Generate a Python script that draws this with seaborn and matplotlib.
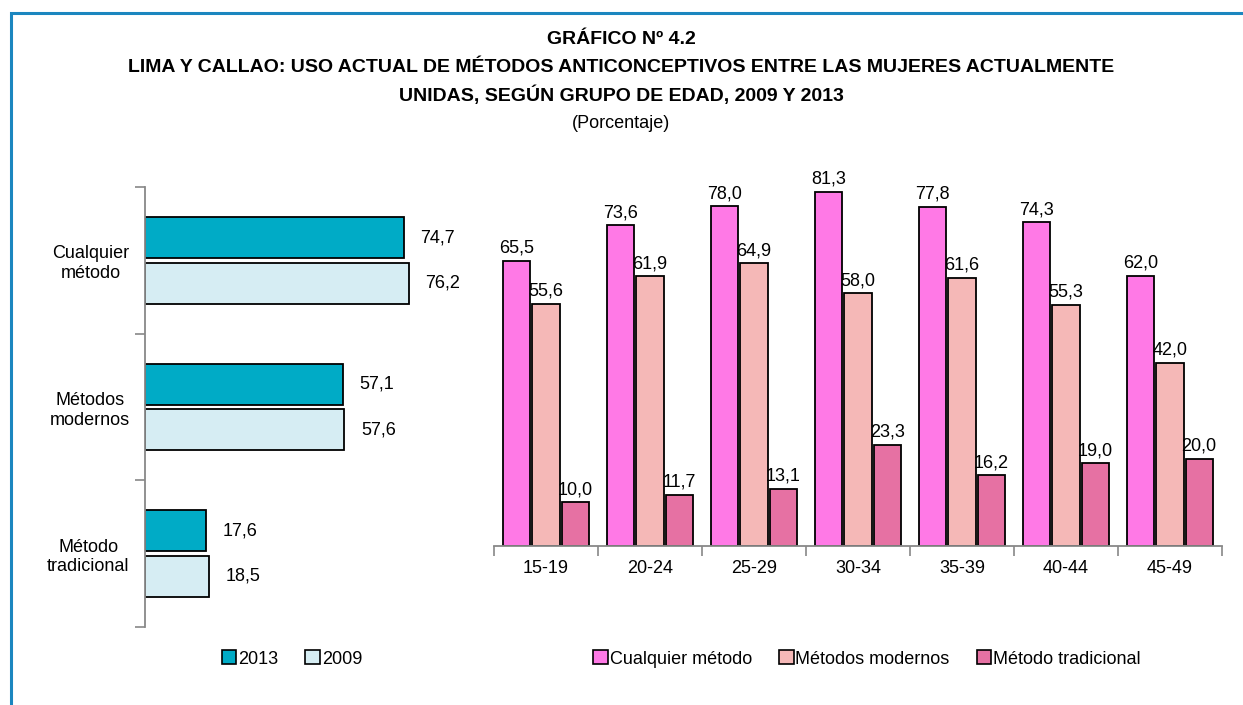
import numpy as np
import pandas as pd
import matplotlib
matplotlib.use("Agg")
import matplotlib.pyplot as plt
from matplotlib.patches import Patch, Rectangle
import seaborn as sns

# left panel data
metodos = ["Cualquier\nmétodo", "Métodos\nmodernos", "Método\ntradicional"]
anios = ["2013", "2009"]
val_2013 = [74.7, 57.1, 17.6]
val_2009 = [76.2, 57.6, 18.5]

# right panel data
edades = ["15-19", "20-24", "25-29", "30-34", "35-39", "40-44", "45-49"]
series = ["Cualquier método", "Métodos modernos", "Método tradicional"]
cualquier = [65.5, 73.6, 78.0, 81.3, 77.8, 74.3, 62.0]
modernos = [55.6, 61.9, 64.9, 58.0, 61.6, 55.3, 42.0]
tradicional = [10.0, 11.7, 13.1, 23.3, 16.2, 19.0, 20.0]

sns.set_theme(style="white")
plt.rcParams["font.family"] = ["Liberation Sans Narrow", "Liberation Sans", "DejaVu Sans"]
plt.rcParams["text.color"] = "black"
plt.rcParams["xtick.color"] = "black"
plt.rcParams["ytick.color"] = "black"

left = pd.DataFrame({
    "metodo": metodos * 2,
    "anio": ["2013"] * 3 + ["2009"] * 3,
    "valor": val_2013 + val_2009,
})
right = pd.DataFrame({
    "edad": edades * 3,
    "serie": [series[0]] * 7 + [series[1]] * 7 + [series[2]] * 7,
    "valor": cualquier + modernos + tradicional,
})

pal_left = {"2013": "#00abc6", "2009": "#d6edf3"}
pal_right = {series[0]: "#ff79e6", series[1]: "#f5b8b7", series[2]: "#e671a3"}

W, H = 1243, 705
fig = plt.figure(figsize=(W / 100, H / 100), dpi=100)

def box(x0, y0, x1, y1):
    return [x0 / W, 1 - y1 / H, (x1 - x0) / W, (y1 - y0) / H]

# outer frame
fig.patches.append(Rectangle((11 / W, -0.1), 1.2, 1 - 13 / H + 0.1, transform=fig.transFigure,
                             fill=False, edgecolor="#1b86bf", linewidth=2.2))

# ---- left: horizontal bars
ax1 = fig.add_axes(box(145, 187, 474, 627))
sns.barplot(data=left, y="metodo", x="valor", hue="anio", hue_order=anios, order=metodos,
            palette=pal_left, saturation=1, orient="h", width=0.62, gap=0.1,
            edgecolor="black", linewidth=1.3, ax=ax1, legend=False)
ax1.set_xlim(0, 95)
ax1.set_ylim(2.5, -0.5)
ax1.set_xlabel("")
ax1.set_ylabel("")
ax1.set_xticks([])
ax1.set_yticks([-0.5, 0.5, 1.5, 2.5])
ax1.set_yticklabels([])
ax1.set_yticks(range(3), minor=True)
ax1.set_yticklabels(metodos, minor=True, fontsize=13, multialignment="center")
ax1.tick_params(axis="y", which="major", length=7, width=1.2, color="#888888", left=True)
ax1.tick_params(axis="y", which="minor", length=0, pad=11)
for s in ["top", "right", "bottom"]:
    ax1.spines[s].set_visible(False)
ax1.spines["left"].set_color("#888888")
ax1.spines["left"].set_linewidth(1.3)
for cont in ax1.containers:
    ax1.bar_label(cont, labels=[f"{v:.1f}".replace(".", ",") for v in cont.datavalues],
                  padding=12, fontsize=13)

# ---- right: grouped vertical bars
ax2 = fig.add_axes(box(494, 154, 1222, 546))
sns.barplot(data=right, x="edad", y="valor", hue="serie", hue_order=series, order=edades,
            palette=pal_right, saturation=1, width=0.84, gap=0.07, edgecolor="black",
            linewidth=1.3, ax=ax2, legend=False)
ax2.set_ylim(0, 90)
ax2.set_xlim(-0.5, 6.5)
ax2.set_xlabel("")
ax2.set_ylabel("")
ax2.set_yticks([])
ax2.set_xticks(np.arange(-0.5, 7, 1))
ax2.set_xticklabels([])
ax2.set_xticks(range(7), minor=True)
ax2.set_xticklabels(edades, minor=True, fontsize=13)
ax2.tick_params(axis="x", which="major", length=7, width=1.2, color="#888888", bottom=True)
ax2.tick_params(axis="x", which="minor", length=0, pad=10)
for s in ["top", "right", "left"]:
    ax2.spines[s].set_visible(False)
ax2.spines["bottom"].set_color("#888888")
ax2.spines["bottom"].set_linewidth(1.3)
for cont in ax2.containers:
    ax2.bar_label(cont, labels=[f"{v:.1f}".replace(".", ",") for v in cont.datavalues],
                  padding=3, fontsize=13)

# legends
h1 = [Patch(facecolor=pal_left[a], edgecolor="black", linewidth=1.2) for a in anios]
fig.legend(h1, anios, loc="center", bbox_to_anchor=(292 / W, 1 - 659 / H), ncol=2,
           frameon=False, fontsize=13, handlelength=0.8, handleheight=0.8,
           handletextpad=0.1, columnspacing=1.5)
h2 = [Patch(facecolor=pal_right[s], edgecolor="black", linewidth=1.2) for s in series]
fig.legend(h2, series, loc="center", bbox_to_anchor=(867 / W, 1 - 659 / H), ncol=3,
           frameon=False, fontsize=13, handlelength=0.8, handleheight=0.8,
           handletextpad=0.1, columnspacing=1.5)

# titles
cx = 621 / W
fig.text(cx, 1 - 40 / H, "GRÁFICO Nº 4.2", ha="center", va="center", fontsize=14, fontweight="bold")
fig.text(cx, 1 - 67 / H, "LIMA Y CALLAO: USO ACTUAL DE MÉTODOS ANTICONCEPTIVOS ENTRE LAS MUJERES ACTUALMENTE",
         ha="center", va="center", fontsize=14, fontweight="bold")
fig.text(cx, 1 - 95 / H, "UNIDAS, SEGÚN GRUPO DE EDAD, 2009 Y 2013", ha="center", va="center",
         fontsize=14, fontweight="bold")
fig.text(cx, 1 - 123 / H, "(Porcentaje)", ha="center", va="center", fontsize=13)

fig.savefig("out.png", dpi=100)
